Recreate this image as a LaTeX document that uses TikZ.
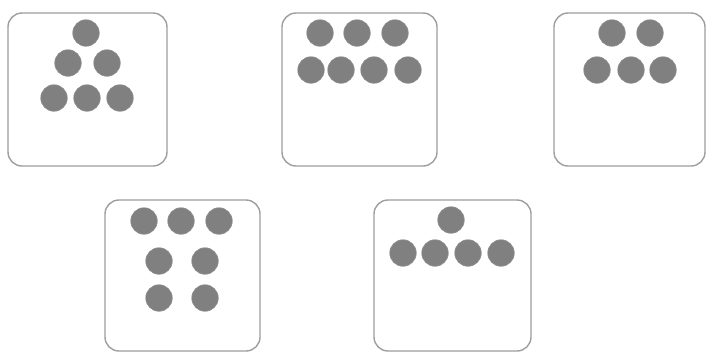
\documentclass[tikz,border=0pt]{standalone}
\begin{document}
\begin{tikzpicture}[x=1pt,y=-1pt,
  card/.style={draw=black!38, line width=1.4pt, rounded corners=14pt, fill=white},
  dot/.style={circle, fill=black!50, draw=black!45, line width=0.6pt, minimum size=26.5pt, inner sep=0pt}]
\useasboundingbox[fill=white] (0,0) rectangle (708,354);
% cards
\draw[card] (8,13) rectangle (167,166);
\draw[card] (282,13) rectangle (437,166);
\draw[card] (554,13) rectangle (705,166);
\draw[card] (105,200) rectangle (260,351);
\draw[card] (374,200) rectangle (531,351);
% card 1
\node[dot] (a1) at (86,33) {};
\node[dot] (a2) at (68,63) {};
\node[dot] (a3) at (107,63) {};
\node[dot] (a4) at (54,98) {};
\node[dot] (a5) at (87,98) {};
\node[dot] (a6) at (120,98) {};
% card 2
\node[dot] (b1) at (320,33) {};
\node[dot] (b2) at (357,33) {};
\node[dot] (b3) at (395,33) {};
\node[dot] (b4) at (311,70) {};
\node[dot] (b5) at (341,70) {};
\node[dot] (b6) at (374,70) {};
\node[dot] (b7) at (408,70) {};
% card 3
\node[dot] (c1) at (612,33) {};
\node[dot] (c2) at (650,33) {};
\node[dot] (c3) at (597,70) {};
\node[dot] (c4) at (631,70) {};
\node[dot] (c5) at (663,70) {};
% card 4
\node[dot] (d1) at (144,221) {};
\node[dot] (d2) at (181,221) {};
\node[dot] (d3) at (219,221) {};
\node[dot] (d4) at (159,261) {};
\node[dot] (d5) at (205,261) {};
\node[dot] (d6) at (159,298) {};
\node[dot] (d7) at (205,298) {};
% card 5
\node[dot] (e1) at (451,220) {};
\node[dot] (e2) at (403,253) {};
\node[dot] (e3) at (435,253) {};
\node[dot] (e4) at (468,253) {};
\node[dot] (e5) at (501,253) {};
\end{tikzpicture}
\end{document}
